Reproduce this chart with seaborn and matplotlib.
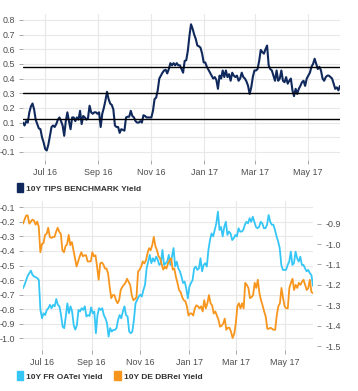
import numpy as np
import pandas as pd
import matplotlib
matplotlib.use("Agg")
import matplotlib.pyplot as plt
import matplotlib.dates as mdates
from matplotlib.patches import Patch
from matplotlib.ticker import FixedLocator, FormatStrFormatter
import seaborn as sns

# ---------------- data ----------------
tips_start, tips_end = "2016-06-06", "2017-06-07"
tips_yield = [
    0.10, 0.08, 0.11, 0.10, 0.17, 0.21, 0.23, 0.19, 0.12, 0.09, 0.06, 0.055, 0.00, -0.035, -0.08, -0.09,
    -0.05, 0.01, 0.07, 0.08, 0.07, 0.09, 0.12, 0.135, 0.11, 0.08, 0.01, 0.11, 0.17, 0.11, 0.055, 0.135,
    0.135, 0.11, 0.135, 0.12, 0.18, 0.09, 0.145, 0.135, 0.12, 0.13, 0.215, 0.17, 0.16, 0.17, 0.17, 0.16,
    0.17, 0.07, 0.16, 0.20, 0.25, 0.31, 0.26, 0.23, 0.22, 0.19, 0.08, 0.07, 0.07, 0.03, 0.055, 0.05,
    0.045, 0.135, 0.14, 0.14, 0.18, 0.145, 0.135, 0.11, 0.10, 0.10, 0.11, 0.10, 0.15, 0.145, 0.135, 0.135,
    0.135, 0.135, 0.18, 0.26, 0.27, 0.32, 0.40, 0.42, 0.44, 0.455, 0.46, 0.435, 0.465, 0.505, 0.49, 0.505,
    0.49, 0.505, 0.49, 0.49, 0.465,
    0.44, 0.52, 0.525, 0.59, 0.69, 0.77, 0.74, 0.70, 0.67, 0.625, 0.62, 0.61, 0.57, 0.51, 0.51, 0.48,
    0.46, 0.44, 0.42, 0.40, 0.41, 0.39, 0.33, 0.42, 0.40, 0.455, 0.41, 0.455, 0.41, 0.43, 0.385, 0.44,
    0.42, 0.41, 0.42, 0.385, 0.40, 0.44, 0.41, 0.40, 0.38, 0.35, 0.295, 0.34, 0.41, 0.455, 0.455, 0.465,
    0.52, 0.595,
    0.58, 0.57, 0.60, 0.625, 0.49, 0.465, 0.455, 0.42, 0.385, 0.455, 0.385, 0.40, 0.455, 0.385, 0.375, 0.41,
    0.365, 0.385, 0.40, 0.32, 0.28, 0.33, 0.295, 0.33, 0.35, 0.375, 0.385, 0.35, 0.40, 0.42, 0.44, 0.48,
    0.50, 0.535, 0.50, 0.465, 0.48, 0.455, 0.40, 0.385, 0.41, 0.42, 0.42, 0.41, 0.40, 0.365, 0.33, 0.34,
    0.32, 0.35,
]
tips_ref_levels = [0.127, 0.305, 0.482]
tips_yticks = [-0.1, 0.0, 0.1, 0.2, 0.3, 0.4, 0.5, 0.6, 0.7, 0.8]
tips_label = "10Y TIPS BENCHMARK Yield"

eu_start, eu_end = "2016-06-07", "2017-06-05"
fr_oatei = [
    -0.656, -0.633, -0.60, -0.57, -0.553, -0.535, -0.565, -0.575, -0.58, -0.587, -0.60, -0.805, -0.862,
    -0.828, -0.84, -0.805, -0.793, -0.77, -0.793, -0.77, -0.78, -0.73, -0.77, -0.78, -0.84, -0.92, -0.93,
    -0.85, -0.76, -0.828, -0.78, -0.816, -0.91, -0.94, -0.91, -0.805, -0.816, -0.793, -0.805, -0.78, -0.85,
    -0.84, -0.846, -0.787, -0.828,
    -0.816, -0.965, -0.84, -0.793, -0.805, -0.793, -0.84, -0.862, -0.896, -0.988, -0.93, -0.953, -0.942,
    -0.942, -0.93, -0.873, -0.84, -0.862, -0.816, -0.78, -0.84, -0.85, -0.953, -0.965, -0.953, -0.873,
    -0.76, -0.736, -0.713, -0.70, -0.713, -0.667, -0.633, -0.52, -0.473, -0.427, -0.484, -0.45, -0.473,
    -0.439, -0.46, -0.496, -0.484, -0.393, -0.496, -0.484,
    -0.473, -0.427, -0.496, -0.439, -0.38, -0.507, -0.473, -0.52, -0.54, -0.576, -0.62, -0.61, -0.656,
    -0.725, -0.645, -0.62, -0.60, -0.52, -0.507, -0.53, -0.52, -0.45, -0.54, -0.496, -0.484, -0.507,
    -0.393, -0.325, -0.28, -0.30, -0.256, -0.21, -0.13, -0.256, -0.235, -0.30, -0.235, -0.20, -0.29,
    -0.267, -0.28, -0.325, -0.313, -0.29, -0.30, -0.244, -0.267,
    -0.267, -0.256, -0.22, -0.20, -0.21, -0.175, -0.20, -0.165, -0.20, -0.235, -0.244, -0.235, -0.20,
    -0.21, -0.244, -0.244, -0.22, -0.153, -0.20, -0.22, -0.22, -0.256, -0.30, -0.335, -0.38, -0.496,
    -0.53, -0.53, -0.53, -0.496, -0.473, -0.405, -0.496, -0.484, -0.405, -0.45, -0.473, -0.439, -0.496,
    -0.496, -0.52, -0.54, -0.53, -0.553, -0.565, -0.64,
]
de_dbrei = [
    -0.90, -0.88, -0.86, -0.86, -0.90, -0.89, -0.88, -0.885, -0.905, -0.89, -0.915, -1.04, -1.00, -0.995,
    -0.955, -0.95, -0.92, -0.965, -0.97, -0.965, -0.965, -0.94, -0.92, -0.94, -0.95, -1.03, -1.04, -1.01,
    -1.00, -0.955, -1.005, -0.99, -1.03, -1.07, -1.11, -1.085, -1.06, -1.04, -1.06, -1.055, -1.055,
    -1.085, -1.085, -1.085, -1.04, -1.06,
    -1.055, -1.11, -1.175, -1.095, -1.09, -1.10, -1.12, -1.12, -1.145, -1.21, -1.265, -1.25, -1.25,
    -1.275, -1.29, -1.275, -1.225, -1.21, -1.20, -1.19, -1.17, -1.185, -1.20, -1.25, -1.275, -1.27,
    -1.26, -1.135, -1.125, -1.11, -1.085, -1.095, -1.08, -1.045, -1.02, -1.03, -1.005, -0.965, -1.01,
    -1.03, -1.06, -1.07, -1.10, -1.125, -1.11, -1.12, -1.095,
    -1.08, -1.07, -1.125, -1.12, -1.16, -1.19, -1.225, -1.235, -1.26, -1.275, -1.28, -1.305, -1.35,
    -1.34, -1.34, -1.35, -1.315, -1.30, -1.305, -1.315, -1.305, -1.33, -1.275, -1.315, -1.29, -1.25,
    -1.29, -1.30, -1.34, -1.33, -1.35, -1.37, -1.405, -1.40, -1.39, -1.365, -1.42, -1.41, -1.41, -1.43,
    -1.46, -1.44, -1.39, -1.305, -1.29, -1.315,
    -1.29, -1.315, -1.19, -1.20, -1.215, -1.265, -1.26, -1.25, -1.19, -1.215, -1.175, -1.24, -1.275,
    -1.30, -1.33, -1.355, -1.415, -1.415, -1.41, -1.415, -1.42, -1.42, -1.35, -1.305, -1.29, -1.215,
    -1.265, -1.305, -1.315, -1.315, -1.215, -1.19, -1.17, -1.225, -1.20, -1.215, -1.19, -1.20, -1.185,
    -1.175, -1.20, -1.225, -1.215, -1.175, -1.235, -1.24,
]
fr_yticks = [-1.0, -0.9, -0.8, -0.7, -0.6, -0.5, -0.4, -0.3, -0.2, -0.1]
de_yticks = [-1.5, -1.4, -1.3, -1.2, -1.1, -1.0, -0.9]
fr_label = "10Y FR OATei Yield"
de_label = "10Y DE DBRei Yield"

NAVY = "#10295c"
BLUE = "#35c6f6"
ORANGE = "#f7951d"

# ---------------- figure ----------------
sns.set_theme(style="white")
plt.rcParams["font.family"] = ["Liberation Sans", "DejaVu Sans"]
plt.rcParams["axes.unicode_minus"] = False

W, H = 358, 391
fig = plt.figure(figsize=(W / 100, H / 100), dpi=100)
ax1 = fig.add_axes([23 / W, 1 - 160 / H, 317 / W, 146 / H])
ax2 = fig.add_axes([23 / W, 1 - 350 / H, 290 / W, 149 / H])
ax3 = ax2.twinx()

df_tips = pd.DataFrame({
    "date": pd.date_range(tips_start, tips_end, periods=len(tips_yield)),
    "value": tips_yield,
})
df_fr = pd.DataFrame({
    "date": pd.date_range(eu_start, eu_end, periods=len(fr_oatei)),
    "value": fr_oatei,
})
df_de = pd.DataFrame({
    "date": pd.date_range(eu_start, eu_end, periods=len(de_dbrei)),
    "value": de_dbrei,
})

sns.lineplot(data=df_tips, x="date", y="value", ax=ax1, color=NAVY, linewidth=1.5)
for lv in tips_ref_levels:
    ax1.axhline(lv, color="black", linewidth=1.0, zorder=3)

sns.lineplot(data=df_fr, x="date", y="value", ax=ax2, color=BLUE, linewidth=1.3)
sns.lineplot(data=df_de, x="date", y="value", ax=ax3, color=ORANGE, linewidth=1.3)

TICK_COL = "#4d4d4d"


def style(ax, grid=True):
    for s in ax.spines.values():
        s.set_visible(False)
    ax.set_xlabel("")
    ax.set_ylabel("")
    if grid:
        ax.grid(True, color="#e8e8e8", linewidth=0.8)
        ax.set_axisbelow(True)
    else:
        ax.grid(False)
    ax.xaxis.set_major_locator(mdates.MonthLocator(bymonth=[1, 3, 5, 7, 9, 11]))
    ax.xaxis.set_major_formatter(mdates.DateFormatter("%b %y"))
    ax.tick_params(axis="both", length=3, width=0.7, color="#a8a8a8",
                   labelsize=6.4, labelcolor=TICK_COL, pad=3)


style(ax1)
ax1.set_xlim(df_tips["date"].iloc[0], df_tips["date"].iloc[-1])
ax1.set_ylim(-0.155, 0.84)
ax1.yaxis.set_major_locator(FixedLocator(tips_yticks))
ax1.yaxis.set_major_formatter(FormatStrFormatter("%.1f"))
ax1.tick_params(axis="x", bottom=True)
ax1.tick_params(axis="y", left=True)

style(ax2)
ax2.set_xlim(df_fr["date"].iloc[0], df_fr["date"].iloc[-1])
ax2.set_ylim(-1.08, -0.057)
ax2.yaxis.set_major_locator(FixedLocator(fr_yticks))
ax2.yaxis.set_major_formatter(FormatStrFormatter("%.1f"))
ax2.tick_params(axis="x", bottom=True)
ax2.tick_params(axis="y", left=True)

style(ax3, grid=False)
ax3.set_ylim(-1.519, -0.789)
ax3.yaxis.set_major_locator(FixedLocator(de_yticks))
ax3.yaxis.set_major_formatter(FormatStrFormatter("%.1f"))
ax3.spines["right"].set_position(("outward", 3))
ax3.tick_params(axis="y", right=True, left=False)

# legends
leg_kw = dict(frameon=False, handlelength=0.75, handleheight=1.25, handletextpad=0.35,
              borderaxespad=0, borderpad=0, prop={"weight": "bold", "size": 6},
              labelcolor="#333333", loc="center left")
fig.legend(handles=[Patch(color=NAVY)], labels=[tips_label],
           bbox_to_anchor=(17 / W, 1 - 188 / H), **leg_kw)
fig.legend(handles=[Patch(color=BLUE), Patch(color=ORANGE)], labels=[fr_label, de_label],
           bbox_to_anchor=(17 / W, 1 - 376 / H), ncol=2, columnspacing=1.4, **leg_kw)

fig.savefig("out.png", dpi=100)
